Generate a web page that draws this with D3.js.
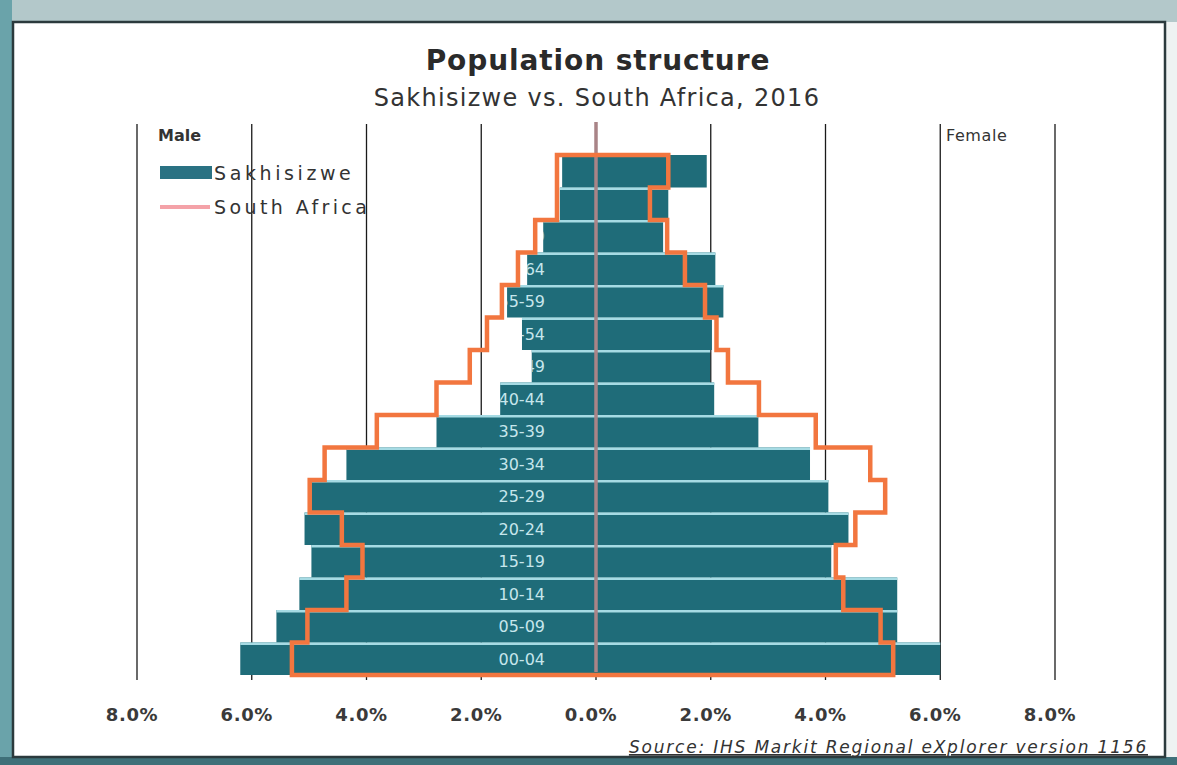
<!DOCTYPE html>
<html>
<head>
<meta charset="utf-8">
<script src="https://cdn.jsdelivr.net/npm/d3@7/dist/d3.min.js"></script>
<style>
  html, body { margin: 0; padding: 0; background: #ffffff; }
  svg { display: block; }
  text { font-family: "DejaVu Sans", Verdana, sans-serif; }
</style>
</head>
<body>
<svg id="chart" width="1177" height="765"></svg>
<script>
// Age groups, youngest first
const ageGroups = ["00-04","05-09","10-14","15-19","20-24","25-29","30-34","35-39",
                   "40-44","45-49","50-54","55-59","60-64","65-69","70-74","75+"];

// Share of total population (%), Sakhisizwe
const sakhisizweMale   = [6.20, 5.57, 5.17, 4.96, 5.08, 4.96, 4.35, 2.78, 1.67, 1.12, 1.29, 1.55, 1.20, 0.92, 0.63, 0.59];
const sakhisizweFemale = [6.00, 5.25, 5.25, 4.10, 4.40, 4.05, 3.73, 2.83, 2.06, 1.99, 2.02, 2.22, 2.08, 1.17, 1.26, 1.93];

// Share of total population (%), South Africa
const southAfricaMale   = [5.30, 5.03, 4.35, 4.07, 4.43, 4.99, 4.73, 3.82, 2.78, 2.20, 1.90, 1.64, 1.36, 1.06, 0.68, 0.68];
const southAfricaFemale = [5.18, 4.96, 4.31, 4.18, 4.52, 5.04, 4.78, 3.83, 2.84, 2.30, 2.10, 1.90, 1.55, 1.24, 0.94, 1.26];

// Axis ticks (male side negative)
const tickValues = [-8, -6, -4, -2, 0, 2, 4, 6, 8];

const svg = d3.select("#chart");
const W = 1177, H = 765;

// Window frame
svg.append("rect").attr("x", 0).attr("y", 0).attr("width", W).attr("height", H).attr("fill", "#eef2f2");
svg.append("rect").attr("x", 0).attr("y", 0).attr("width", W).attr("height", 22).attr("fill", "#b3c8ca");
svg.append("rect").attr("x", 0).attr("y", 0).attr("width", 12).attr("height", H).attr("fill", "#6aa3aa");
svg.append("rect").attr("x", 0).attr("y", 757).attr("width", W).attr("height", 8).attr("fill", "#3f7079");
svg.append("rect").attr("x", 13).attr("y", 22).attr("width", 1152).attr("height", 735)
  .attr("fill", "#ffffff").attr("stroke", "#2b3a3d").attr("stroke-width", 2.5);

const x = d3.scaleLinear().domain([-8, 8]).range([137, 1055]);
const y = d3.scaleBand().domain(ageGroups.slice().reverse()).range([155, 675]).paddingInner(0);

const rows = ageGroups.map((a, i) => ({
  age: a,
  sm: sakhisizweMale[i], sf: sakhisizweFemale[i],
  am: southAfricaMale[i], af: southAfricaFemale[i]
}));

// Titles
svg.append("text").attr("x", 598).attr("y", 70).attr("text-anchor", "middle")
  .attr("font-size", 28).attr("font-weight", "bold").attr("letter-spacing", 0.9).attr("fill", "#2a2a2a")
  .text("Population structure");
svg.append("text").attr("x", 597).attr("y", 106).attr("text-anchor", "middle")
  .attr("font-size", 24).attr("letter-spacing", 1.3).attr("fill", "#333")
  .text("Sakhisizwe vs. South Africa, 2016");

// Vertical gridlines
svg.append("g").selectAll("line").data(tickValues).join("line")
  .attr("x1", d => x(d)).attr("x2", d => x(d))
  .attr("y1", 124).attr("y2", 680)
  .attr("stroke", "#1a1a1a").attr("stroke-width", 1.3);

// Side labels
svg.append("text").attr("x", 158).attr("y", 141).attr("font-size", 16)
  .attr("font-weight", "bold").attr("fill", "#333").text("Male");
svg.append("text").attr("x", 946).attr("y", 141).attr("font-size", 16)
  .attr("letter-spacing", 0.6).attr("fill", "#333").text("Female");

// Legend
svg.append("rect").attr("x", 160).attr("y", 166).attr("width", 52).attr("height", 13).attr("fill", "#2a7283");
svg.append("text").attr("x", 214).attr("y", 180).attr("font-size", 19).attr("letter-spacing", 3.6)
  .attr("fill", "#333").text("Sakhisizwe");
svg.append("line").attr("x1", 160).attr("x2", 210).attr("y1", 207).attr("y2", 207)
  .attr("stroke", "#f4a2a8").attr("stroke-width", 4);
svg.append("text").attr("x", 214).attr("y", 214).attr("font-size", 19).attr("letter-spacing", 3.4)
  .attr("fill", "#333").text("South Africa");

// Sakhisizwe bars
const barColor = "#1f6c79";
const bars = svg.append("g");
bars.selectAll("rect.m").data(rows).join("rect").attr("class", "m")
  .attr("x", d => x(-d.sm)).attr("width", d => x(0) - x(-d.sm))
  .attr("y", d => y(d.age)).attr("height", y.bandwidth())
  .attr("fill", barColor);
bars.selectAll("rect.f").data(rows).join("rect").attr("class", "f")
  .attr("x", x(0)).attr("width", d => x(d.sf) - x(0))
  .attr("y", d => y(d.age)).attr("height", y.bandwidth())
  .attr("fill", barColor);
// light separator along the top of each bar
bars.selectAll("line.sep").data(rows.filter(d => d.age !== "75+")).join("line").attr("class", "sep")
  .attr("x1", d => x(-d.sm)).attr("x2", d => x(d.sf))
  .attr("y1", d => y(d.age) + 1.2).attr("y2", d => y(d.age) + 1.2)
  .attr("stroke", "#a6dbe4").attr("stroke-width", 2.4);

// Age labels sit on the male bars and only show where a bar lies beneath them
const clip = svg.append("defs").append("clipPath").attr("id", "maleBars");
clip.selectAll("rect").data(rows).join("rect")
  .attr("x", d => x(-d.sm)).attr("width", d => x(0) - x(-d.sm))
  .attr("y", d => y(d.age)).attr("height", y.bandwidth());
svg.append("g").attr("clip-path", "url(#maleBars)")
  .selectAll("text").data(rows).join("text")
  .attr("x", 545).attr("y", d => y(d.age) + y.bandwidth() / 2 + 6)
  .attr("text-anchor", "end").attr("font-size", 16).attr("fill", "#c6e6ec")
  .text(d => d.age);

// Centre line
svg.append("line").attr("x1", x(0)).attr("x2", x(0)).attr("y1", 122).attr("y2", 672)
  .attr("stroke", "#a98487").attr("stroke-width", 3.5);

// South Africa outline: up the male side, across the top, down the female side
const oldestFirst = rows.slice().reverse();
const outline = [];
rows.forEach(d => {
  outline.push([x(-d.am), y(d.age) + y.bandwidth()]);
  outline.push([x(-d.am), y(d.age)]);
});
oldestFirst.forEach(d => {
  outline.push([x(d.af), y(d.age)]);
  outline.push([x(d.af), y(d.age) + y.bandwidth()]);
});
svg.append("path")
  .attr("d", d3.line()(outline) + "Z")
  .attr("fill", "none").attr("stroke", "#f2763f").attr("stroke-width", 4.5)
  .attr("stroke-linejoin", "miter");

// X axis labels
svg.append("g").selectAll("text").data(tickValues).join("text")
  .attr("x", d => x(d) - 5).attr("y", 721).attr("text-anchor", "middle")
  .attr("font-size", 18).attr("font-weight", "bold").attr("letter-spacing", 0.6).attr("fill", "#3a3a3a")
  .text(d => Math.abs(d).toFixed(1) + "%");

// Source note
svg.append("text").attr("x", 1148).attr("y", 753).attr("text-anchor", "end")
  .attr("font-size", 17).attr("font-style", "italic").attr("letter-spacing", 1.8).attr("fill", "#333")
  .attr("text-decoration", "underline")
  .text("Source: IHS Markit Regional eXplorer version 1156");
</script>
</body>
</html>
